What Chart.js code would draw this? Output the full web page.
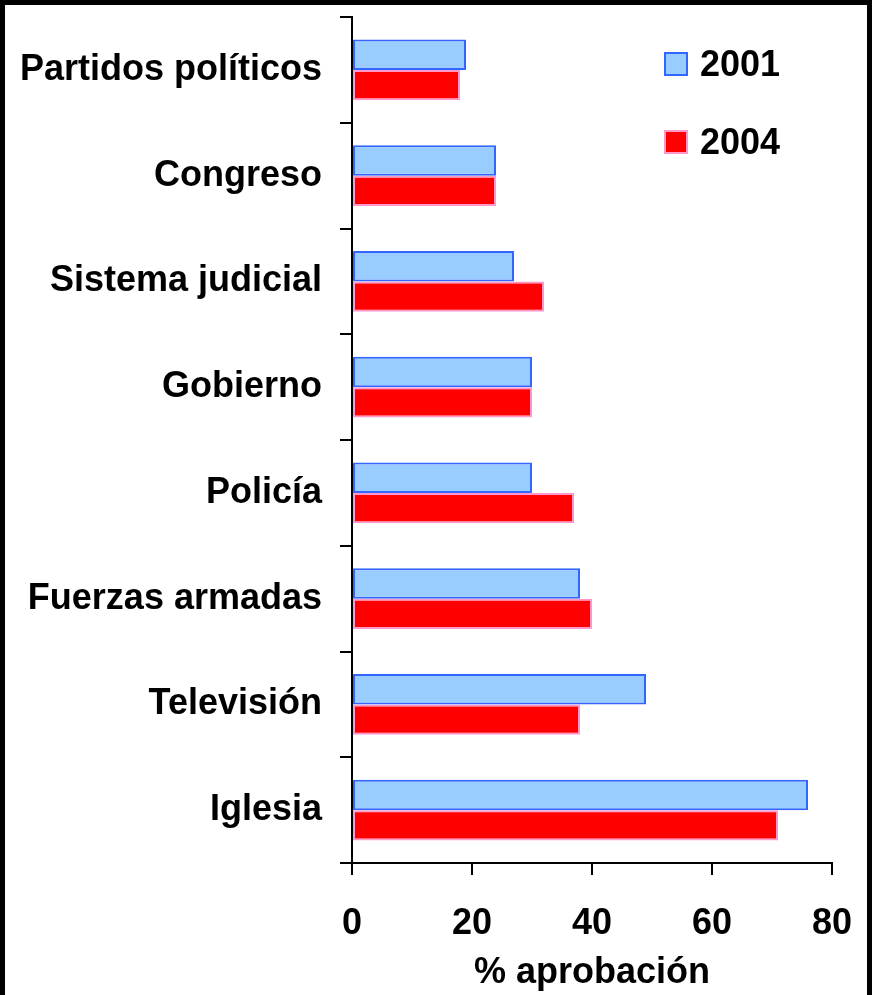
<!DOCTYPE html>
<html>
<head>
<meta charset="utf-8">
<script src="https://cdn.jsdelivr.net/npm/chart.js@4"></script>
<style>
  html, body { margin: 0; padding: 0; background: #fff; overflow: hidden; }
  #frame {
    position: absolute; left: 0; top: 0;
    width: 862px; height: 990px;
    border: 5px solid #000; border-bottom: none;
    background: #fff;
  }
  #chart { display: block; }
</style>
</head>
<body>
<div id="frame">
  <canvas id="chart" width="862" height="990"></canvas>
</div>
<script>
// categories, top to bottom
const institutions = ['Partidos políticos', 'Congreso', 'Sistema judicial', 'Gobierno', 'Policía', 'Fuerzas armadas', 'Televisión', 'Iglesia'];
const years = ['2001', '2004'];
const approval2001 = [19, 24, 27, 30, 30, 38, 49, 76];
const approval2004 = [18, 24, 32, 30, 37, 40, 38, 71];
const xTicks = [0, 20, 40, 60, 80];

const FONT = 'Liberation Sans, Arial, Helvetica, sans-serif';

// legend drawn inside the plot, top right
const insideLegend = {
    id: 'insideLegend',
    afterDraw(chart) {
        const ctx = chart.ctx;
        const area = chart.chartArea;
        ctx.save();
        ctx.font = 'bold 36px ' + FONT;
        ctx.textBaseline = 'middle';
        ctx.textAlign = 'left';
        chart.data.datasets.forEach((ds, i) => {
            let bx = area.right - 167;
            let by = area.top + 36 + i * 78;
            ctx.fillStyle = ds.backgroundColor;
            ctx.fillRect(bx, by, 22, 22);
            ctx.strokeStyle = ds.borderColor;
            ctx.lineWidth = 2;
            ctx.strokeRect(bx, by, 22, 22);
            ctx.fillStyle = '#000';
            ctx.fillText(ds.label, bx + 35, by + 13);
        });
        ctx.restore();
    }
};

new Chart(document.getElementById('chart'), {
    type: 'bar',
    data: {
        labels: institutions,
        datasets: [{
            label: years[0],
            data: approval2001,
            backgroundColor: '#99CCFF',
            borderColor: '#3366FF',
            borderWidth: 2,
            borderSkipped: false
        }, {
            label: years[1],
            data: approval2004,
            backgroundColor: '#FF0000',
            borderColor: '#FF99CC',
            borderWidth: 2,
            borderSkipped: false
        }]
    },
    options: {
        indexAxis: 'y',
        responsive: false,
        animation: false,
        categoryPercentage: 0.575,
        barPercentage: 1.0,
        layout: { padding: { top: 12, right: 35, left: 0, bottom: 0 } },
        plugins: {
            legend: { display: false },
            tooltip: { enabled: false }
        },
        scales: {
            x: {
                min: 0,
                max: 80,
                afterBuildTicks: (scale) => { scale.ticks = xTicks.map(v => ({ value: v })); },
                afterFit: (scale) => {
                    scale.height = 132;
                    scale.paddingLeft = 0;
                    scale.paddingRight = 0;
                },
                grid: { drawOnChartArea: false, color: '#000', lineWidth: 2, tickLength: 12 },
                border: { color: '#000', width: 2 },
                ticks: { color: '#000', padding: 27, font: { family: FONT, size: 36, weight: 'bold' } },
                title: {
                    display: true,
                    text: '% aprobación',
                    color: '#000',
                    padding: { top: 0, bottom: 0 },
                    font: { family: FONT, size: 36, weight: 'bold' }
                }
            },
            y: {
                afterFit: (scale) => {
                    scale.width = 347;
                    scale.paddingTop = 0;
                    scale.paddingBottom = 0;
                },
                grid: { drawOnChartArea: false, color: '#000', lineWidth: 2, tickLength: 12, offset: true },
                border: { color: '#000', width: 2 },
                ticks: { color: '#000', padding: 18, font: { family: FONT, size: 36, weight: 'bold' } }
            }
        }
    },
    plugins: [insideLegend]
});
</script>
</body>
</html>
